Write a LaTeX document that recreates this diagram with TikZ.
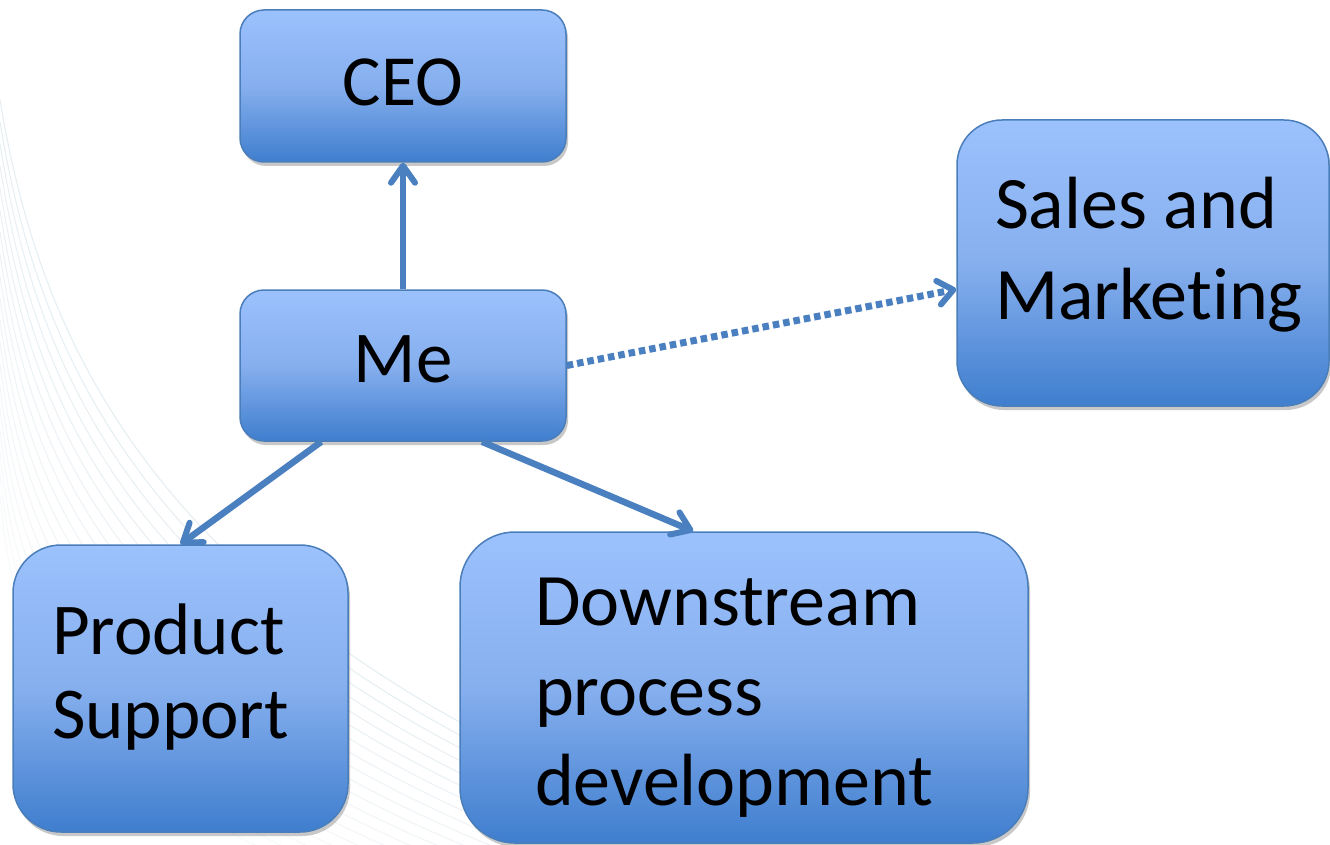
\documentclass[tikz,border=0pt]{standalone}
\usepackage{fontspec}
\setmainfont{Carlito}[Ligatures=NoCommon]
\usetikzlibrary{arrows.meta,shadows,calc}
\hfuzz=30pt
\definecolor{boxtop}{HTML}{9CC2FD}
\definecolor{boxmid}{HTML}{86AFEE}
\definecolor{boxbot}{HTML}{3F7ECE}
\definecolor{boxline}{HTML}{4A7EBB}
\definecolor{arrowc}{HTML}{4A7FC0}
\definecolor{swoosh}{HTML}{DCE8EE}
\begin{document}
\begin{tikzpicture}[x=1pt,y=-1pt,
  orgbox/.style={draw=boxline, line width=1.5pt, top color=boxtop,
    bottom color=boxbot, middle color=boxmid, rounded corners=#1,
    inner sep=0pt,
    drop shadow={shadow xshift=2pt, shadow yshift=-4pt, opacity=0.3, fill=black!70}},
  conn/.style={draw=arrowc, line width=6.5pt,
    -{Straight Barb[length=17pt,width=24pt,line width=6pt,round]}},
  dotconn/.style={draw=arrowc, line width=7pt, dash pattern=on 6.5pt off 4pt,
    -{Straight Barb[length=15pt,width=24pt,line width=6pt,round]}}
]
\useasboundingbox (0,0) rectangle (1330,845);
\fill[white] (0,0) rectangle (1330,845);
% faint background swoosh
\foreach \i in {0,...,18}{
  \draw[swoosh, line width=1pt, opacity={0.75-\i*0.03}]
    (0,{100+\i*22}) .. controls ({40-\i*1.5},{340+\i*16}) and ({150-\i*6},{600+\i*10}) .. ({620-\i*12},{800+\i*6});
}
\node[orgbox=24pt, minimum width=326pt, minimum height=152pt,
      font=\fontsize{72}{86}\selectfont, text height=52pt, text depth=12pt] (CEO) at (403,86) {CEO};
\node[orgbox=24pt, minimum width=326pt, minimum height=151pt,
      font=\fontsize{73}{86}\selectfont, text height=50pt, text depth=17pt] (Me) at (403,365.5) {Me};
\node[orgbox=45pt, minimum width=372pt, minimum height=286pt,
      font=\fontsize{74}{90}\selectfont, text width=296pt, align=flush left,
      text height=60pt, text depth=128pt] (Sales) at (1143,263) {Sales and\\Marketing};
\node[orgbox=48pt, minimum width=335pt, minimum height=287pt,
      font=\fontsize{73}{84}\selectfont, text width=257pt, align=flush left,
      text height=60pt, text depth=129pt] (Prod) at (180.5,688.5) {Product\\Support};
\node[orgbox=55pt, minimum width=568pt, minimum height=311pt,
      font=\fontsize{74}{90}\selectfont, text width=418pt, align=flush left,
      text height=60pt, text depth=185pt] (Down) at (744,687.5) {Downstream\\process\\development};
\draw[conn] (Me.north) -- (CEO.south);
\draw[dotconn] (Me.east) -- (Sales.188);
\draw[conn] (Me.223) -- (Prod.north);
\draw[conn] (Me.316) -- (Down.108);
\end{tikzpicture}
\end{document}
